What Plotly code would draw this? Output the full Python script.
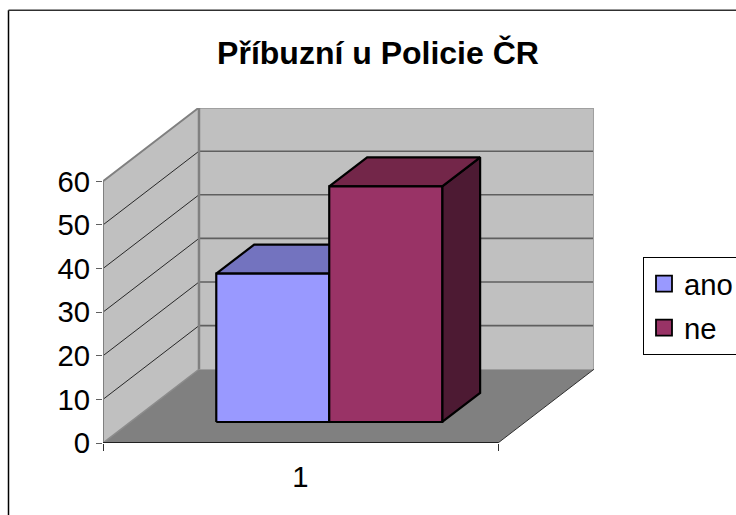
import plotly.graph_objects as go

title = "Příbuzní u Policie ČR"
categories = ["1"]
series_names = ["ano", "ne"]
ano_values = [34]
ne_values = [54]
y_ticks = [0, 10, 20, 30, 40, 50, 60]

colors = {"ano": ("#9999FF", "#7373BF", "#4D4D80"), "ne": ("#993366", "#732649", "#4D1A33")}
FONT = "Liberation Sans, Arial, sans-serif"

# oblique projection of the 3-D box onto the 2-D axes
DX, DY = 0.243, 16.9
YMAX = 60


def P(x, d, v):
    return x + d * DX, v + d * DY


fig = go.Figure()


def poly(points, fill=None, line="rgba(0,0,0,0)", width=1):
    xs = [p[0] for p in points]
    ys = [p[1] for p in points]
    if fill:
        xs.append(xs[0])
        ys.append(ys[0])
    fig.add_trace(go.Scatter(
        x=xs, y=ys, mode="lines", fill="toself" if fill else None, fillcolor=fill,
        line=dict(color=line, width=width), showlegend=False, hoverinfo="skip", cliponaxis=False,
    ))


# walls and floor
poly([P(0, 0, 0), P(0, 1, 0), P(0, 1, YMAX), P(0, 0, YMAX)], "#C0C0C0")
poly([P(0, 1, 0), P(1, 1, 0), P(1, 1, YMAX), P(0, 1, YMAX)], "#C0C0C0")
poly([P(0, 0, 0), P(1, 0, 0), P(1, 1, 0), P(0, 1, 0)], "#808080")

# gridlines
for t in y_ticks[1:-1]:
    poly([P(0, 0, t), P(0, 1, t)], line="#000000", width=0.8)
    poly([P(0, 1, t), P(1, 1, t)], line="#5F5F5F", width=1.6)

# wall edges
poly([P(0, 0, 0), P(0, 0, YMAX), P(0, 1, YMAX), P(1, 1, YMAX)], line="#808080", width=2)
poly([P(0, 1, YMAX), P(0, 1, 0)], line="#808080", width=2.5)
poly([P(1, 1, YMAX), P(1, 1, 0)], line="#A0A0A0", width=2)
poly([P(0, 0, 0), P(0, 1, 0)], line="#8C8C8C", width=1.5)
poly([P(1, 0, 0), P(1, 1, 0)], line="#303030", width=1)
poly([P(0, 0, 0), P(1, 0, 0)], line="#202020", width=2)

# bars
d0, d1 = 0.285, 0.68
x0 = 0.2175
bar_w = 0.286
for i, (name, vals) in enumerate(zip(series_names, [ano_values, ne_values])):
    v = vals[0]
    a, b = x0 + i * bar_w, x0 + (i + 1) * bar_w
    front, top, side = colors[name]
    poly([P(b, d0, 0), P(b, d1, 0), P(b, d1, v), P(b, d0, v)], side, "#000000", 2.2)
    poly([P(a, d0, v), P(b, d0, v), P(b, d1, v), P(a, d1, v)], top, "#000000", 2.2)
    poly([P(a, d0, 0), P(b, d0, 0), P(b, d0, v), P(a, d0, v)], front, "#000000", 2.2)

# legend entries
for name in series_names:
    fig.add_trace(go.Scatter(
        x=[None], y=[None], mode="markers", name=name, legendgroup=name,
        marker=dict(symbol="square", size=24, color=colors[name][0], line=dict(color="#000000", width=1.8)),
    ))

W, H = 736, 515
L, R, T, B = 103, 594, 107.5, 443.5
px = lambda v: (v - L) / (R - L)
py = lambda v: (B - v) / (B - T)

fig.update_layout(
    width=W, height=H, autosize=False,
    margin=dict(l=L, r=W - R, t=T, b=H - B, pad=0, autoexpand=False),
    paper_bgcolor="white", plot_bgcolor="white",
    font=dict(family=FONT, color="black", size=29.3),
    title=dict(text="<b>" + title + "</b>", x=378 / W, xanchor="center", xref="container",
               y=1 - 53 / H, yanchor="middle", yref="container", font=dict(size=32, family=FONT)),
    xaxis=dict(range=[0, (R - L) / 395], showgrid=False, zeroline=False, showline=False, fixedrange=True,
               tickmode="array", tickvals=[0.5], ticktext=categories, ticks="",
               ticklabelstandoff=14,
               minor=dict(tickmode="array", tickvals=[0, 1], ticks="outside", ticklen=7,
                          tickcolor="#303030", tickwidth=1, showgrid=False)),
    yaxis=dict(range=[0, (B - T) / 4.375], showgrid=False, zeroline=False, showline=False, fixedrange=True,
               tickmode="array", tickvals=y_ticks, ticks="outside", ticklen=6,
               tickcolor="#606060", tickwidth=1, ticklabelstandoff=0),
    legend=dict(x=px(643), xanchor="left", y=py(257), yanchor="top", bgcolor="white",
                bordercolor="#000000", borderwidth=1, tracegroupgap=3,
                font=dict(size=29.3, family=FONT), itemsizing="trace"),
    shapes=[
        dict(type="line", xref="paper", yref="paper", x0=px(8.5), x1=px(8.5), y0=py(9.5), y1=py(520),
             line=dict(color="#000000", width=1.5)),
        dict(type="line", xref="paper", yref="paper", x0=px(8.5), x1=px(740), y0=py(9.5), y1=py(9.5),
             line=dict(color="#303030", width=1.5)),
    ],
)

fig.write_html("out.html", default_width=f"{W}px", default_height=f"{H}px",
               config={"displayModeBar": False},
               post_script="document.body.style.margin='0';document.documentElement.style.overflow='hidden';")
